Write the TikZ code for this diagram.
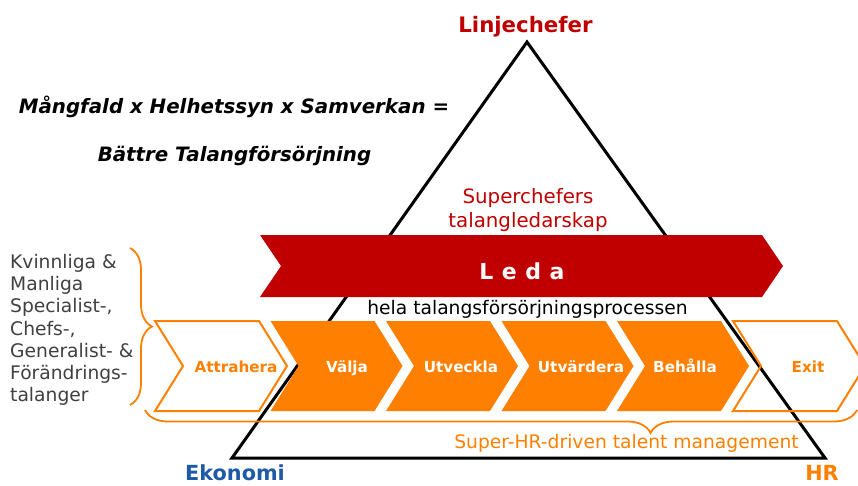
\documentclass[tikz,border=0pt]{standalone}
\usepackage{fontspec}
\setmainfont{DejaVu Sans}
\usetikzlibrary{decorations.pathreplacing}
\definecolor{ledared}{HTML}{C00000}
\definecolor{hrorange}{HTML}{FF8000}
\definecolor{ekoblue}{HTML}{1F5AA6}
\definecolor{talgray}{HTML}{404040}
\newcommand{\stepgen}[5]{
  \path[#4step] (#2,321) -- ++(104,0) -- ++(28,45) -- ++(-28,45)
    -- ++(-104,0) -- ++(28,-45) -- cycle;
  \node[#4text] (#1) at (#3,372) {#5};
}

\begin{document}
\begin{tikzpicture}[
  x=1pt,y=-1pt,
  every node/.style={inner sep=0pt,anchor=base},
  fullstep/.style={fill=hrorange},
  openstep/.style={draw=hrorange,line width=2pt},
  fulltext/.style={text=white,font=\fontsize{15.2}{18}\selectfont\bfseries},
  opentext/.style={text=hrorange,font=\fontsize{15.2}{18}\selectfont\bfseries},
  bracefig/.style={draw=hrorange,line width=1.8pt,decorate},
  ]
  \useasboundingbox (0,0) rectangle (858,485);
  \clip (0,0) rectangle (858,485);
  \coordinate (apex) at (527,42);
  \coordinate (leftfoot) at (232,458);
  \coordinate (rightfoot) at (825,458);
  \draw[line width=3pt] (apex) -- (leftfoot) -- (rightfoot) -- cycle;
  \fill[ledared] (260,235) -- (762,235) -- (783,266) -- (762,297)
    -- (260,297) -- (281,266) -- cycle;
  \stepgen{attrahera}{155}{236}{open}{Attrahera}
  \stepgen{valja}{270.5}{347}{full}{Välja}
  \stepgen{utveckla}{386}{461}{full}{Utveckla}
  \stepgen{utvardera}{501.5}{581}{full}{Utvärdera}
  \stepgen{behalla}{617}{685}{full}{Behålla}
  \stepgen{exit}{733}{808}{open}{Exit}
  \draw[bracefig,decoration={brace,amplitude=22pt}] (130,248) -- (130,405);
  \draw[bracefig,decoration={brace,amplitude=23pt,aspect=0.29}] (857,410) -- (145,410);
  \node[text=ledared,font=\fontsize{21.3}{24}\selectfont\bfseries] (linje) at (525.5,32) {Linjechefer};
  \node[font=\fontsize{19.8}{24}\selectfont\bfseries\itshape] (formel) at (234,113) {Mångfald x Helhetssyn x Samverkan =};
  \node[font=\fontsize{19.8}{24}\selectfont\bfseries\itshape] (battre) at (234.5,161) {Bättre Talangförsörjning};
  \node[text=ledared,font=\fontsize{19.8}{24}\selectfont,align=center,anchor=north] (superchef) at (528,188) {Superchefers\\talangledarskap};
  \node[text=white,font=\fontsize{22}{26}\selectfont\bfseries\addfontfeature{LetterSpace=4}] (leda) at (522,279.5) {L e d a};
  \node[font=\fontsize{18.7}{22}\selectfont] (hela) at (527.5,314.5) {hela talangsförsörjningsprocessen};
  \node[text=talgray,font=\fontsize{18.7}{22.2}\selectfont,align=left,anchor=north west] (talanger) at (10,254)
    {Kvinnliga \&\\Manliga\\Specialist-,\\Chefs-,\\Generalist- \&\\Förändrings-\\talanger};
  \node[text=hrorange,font=\fontsize{18.7}{22}\selectfont] (talent) at (626.5,448) {Super-HR-driven talent management};
  \node[text=ekoblue,font=\fontsize{20.8}{24}\selectfont\bfseries] (ekonomi) at (235,480.5) {Ekonomi};
  \node[text=hrorange,font=\fontsize{20.8}{24}\selectfont\bfseries] (hr) at (822,480.5) {HR};
\end{tikzpicture}
\end{document}
